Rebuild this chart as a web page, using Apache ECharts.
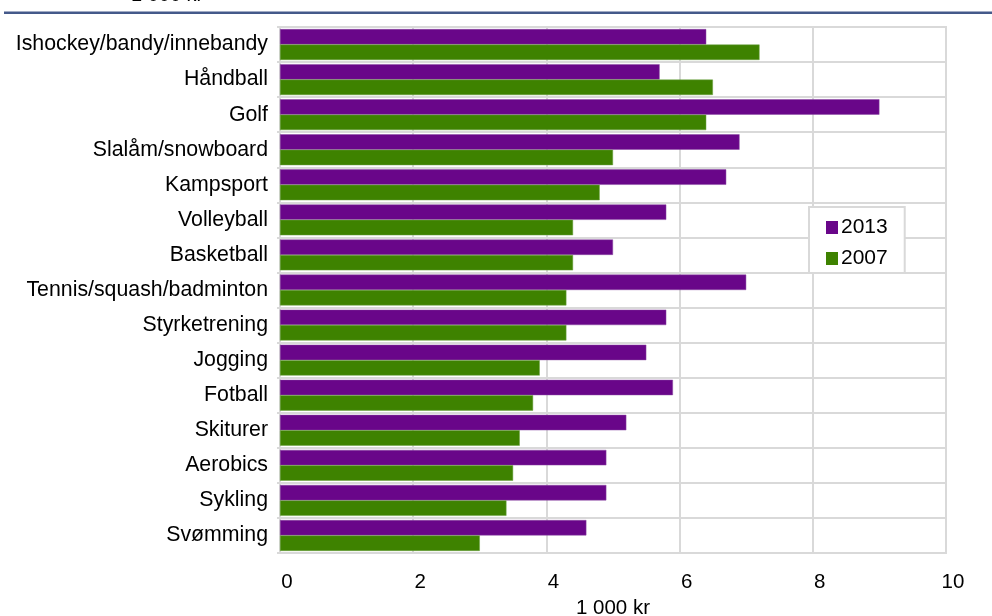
<!DOCTYPE html>
<html>
<head>
<meta charset="utf-8">
<script src="https://cdn.jsdelivr.net/npm/echarts@6/dist/echarts.min.js"></script>
<style>
html,body{margin:0;padding:0;background:#fff;}
#chart{width:992px;height:616px;}
</style>
</head>
<body>
<div id="chart"></div>
<script>
var categories = ["Ishockey/bandy/innebandy","Håndball","Golf","Slalåm/snowboard","Kampsport","Volleyball","Basketball","Tennis/squash/badminton","Styrketrening","Jogging","Fotball","Skiturer","Aerobics","Sykling","Svømming"];
var values2013 = [6.4,5.7,9.0,6.9,6.7,5.8,5.0,7.0,5.8,5.5,5.9,5.2,4.9,4.9,4.6];
var values2007 = [7.2,6.5,6.4,5.0,4.8,4.4,4.4,4.3,4.3,3.9,3.8,3.6,3.5,3.4,3.0];
var seriesNames = ["2013","2007"];
var xTicks = [0,2,4,6,8,10];
var unitLabel = "1 000 kr";

var font = "'Liberation Sans', Arial, sans-serif";
var chart = echarts.init(document.getElementById('chart'), null, {renderer:'canvas', width:992, height:616});
chart.setOption({
  animation:false,
  backgroundColor:'#ffffff',
  textStyle:{fontFamily:font},
  graphic:[
    {type:'rect', shape:{x:4,y:11.5,width:988,height:2.5}, style:{fill:'#44598A'}},
    {type:'text', x:131, y:-5, style:{text:unitLabel, font:'20px ' + font, fill:'#000', verticalAlign:'middle'}}
  ],
  grid:{left:280, width:666, top:27, height:526, show:true, borderColor:'#d9d9d9', borderWidth:2,
        containLabel:false, outerBoundsMode:'none'},
  legend:{
    orient:'vertical', left:809, top:207, width:98,
    itemWidth:12, itemHeight:13, itemGap:10,
    padding:[10,17,4,17],
    borderColor:'#d9d9d9', borderWidth:2, backgroundColor:'#fff',
    icon:'rect',
    itemStyle:{borderWidth:0},
    textStyle:{fontSize:21, color:'#000', fontFamily:font, padding:[0,0,0,-2]},
    data:seriesNames
  },
  xAxis:{
    type:'value', min:xTicks[0], max:xTicks[xTicks.length-1], interval:2,
    name:unitLabel, nameLocation:'middle', nameGap:44,
    nameTextStyle:{fontSize:20.5, color:'#000', fontFamily:font},
    axisLine:{show:false}, axisTick:{show:false},
    axisLabel:{fontSize:20.5, color:'#000', margin:19, padding:[0,0,0,14], fontFamily:font},
    splitLine:{show:true, lineStyle:{color:'#d9d9d9', width:2}}
  },
  yAxis:{
    type:'category', data:categories, inverse:true,
    axisLine:{show:true, lineStyle:{color:'#d9d9d9', width:2}},
    axisTick:{show:true, length:3, lineStyle:{color:'#d9d9d9', width:2}},
    axisLabel:{fontSize:21.3, color:'#000', margin:12, fontFamily:font},
    splitLine:{show:true, lineStyle:{color:'#d9d9d9', width:2}}
  },
  series:[
    {name:seriesNames[0], type:'bar', data:values2013, barGap:'0%', barCategoryGap:'12%',
     itemStyle:{color:'#690689', borderColor:'#8a4aa3', borderWidth:0.5}},
    {name:seriesNames[1], type:'bar', data:values2007, barGap:'0%', barCategoryGap:'12%',
     itemStyle:{color:'#3e8200', borderColor:'#6aa040', borderWidth:0.5}}
  ]
});
</script>
</body>
</html>
